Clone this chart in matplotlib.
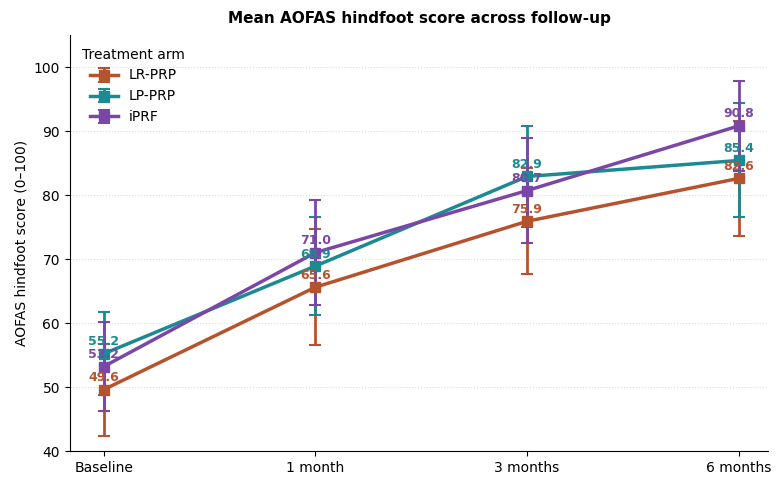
import numpy as np
import matplotlib
matplotlib.use('Agg')
from matplotlib import pyplot as plt

timepoints = ['Baseline', '1 month', '3 months', '6 months']
arms = ['LR-PRP', 'LP-PRP', 'iPRF']
lr_prp_mean = [49.6, 65.6, 75.9, 82.6]
lp_prp_mean = [55.2, 68.9, 82.9, 85.4]
iprf_mean = [53.2, 71.0, 80.7, 90.8]
lr_prp_sd = [7.2, 9.1, 8.3, 9.0]
lp_prp_sd = [6.5, 7.6, 7.9, 8.9]
iprf_sd = [7.0, 8.2, 8.2, 7.0]

colors = ['#b5532f', '#1c8a93', '#7b47a6']

fig, ax = plt.subplots(figsize=(7.84, 4.93), dpi=100)
x = np.arange(len(timepoints))

for name, m, s, c in zip(arms, [lr_prp_mean, lp_prp_mean, iprf_mean],
                         [lr_prp_sd, lp_prp_sd, iprf_sd], colors):
    ax.errorbar(x, m, yerr=s, color=c, marker='s', markersize=7.5, lw=2.5,
                capsize=4, elinewidth=2, capthick=1.5, label=name)
    for xi, v in zip(x, m):
        ax.annotate(f'{v:.1f}', (xi, v), xytext=(0, 4), textcoords='offset points',
                    ha='center', va='bottom', fontsize=9, fontweight='bold', color=c)

ax.set_xticks(x)
ax.set_xticklabels(timepoints)
ax.set_xlim(-0.16, 3.14)
ax.set_ylim(40, 105)
ax.set_yticks([40, 50, 60, 70, 80, 90, 100])
ax.set_ylabel('AOFAS hindfoot score (0\u2013100)', fontsize=10)
ax.set_title('Mean AOFAS hindfoot score across follow-up', fontsize=11, fontweight='bold', pad=9)
ax.yaxis.grid(True, linestyle=':', color='#dddddd', linewidth=0.8)
ax.set_axisbelow(True)
ax.spines['top'].set_visible(False)
ax.spines['right'].set_visible(False)
ax.legend(title='Treatment arm', loc='upper left', frameon=False, fontsize=10, title_fontsize=10)

fig.subplots_adjust(left=0.089, right=0.98, bottom=0.085, top=0.929)
plt.savefig('out.png', dpi=100)
